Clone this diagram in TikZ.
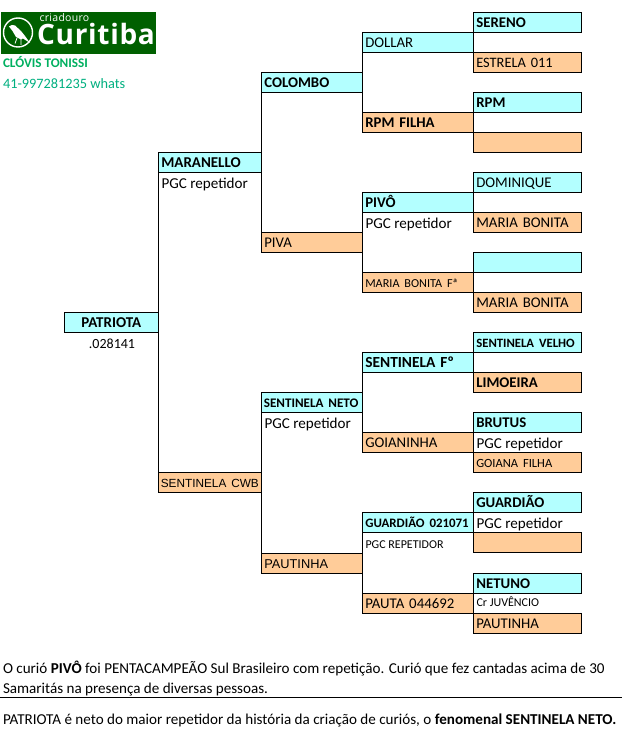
\documentclass[tikz,border=0pt]{standalone}
\usepackage{fontspec}
\setmainfont{Carlito}
\newfontfamily\capsf[WordSpace=0.6]{Carlito}
\newfontfamily\arialf[WordSpace=0.6]{Liberation Sans}
\newfontfamily\logof[LetterSpace=2.5]{Open Sans}
\definecolor{cyanbox}{HTML}{B3FFFF}
\definecolor{orangebox}{HTML}{FFCC99}
\definecolor{logogreen}{HTML}{006000}
\definecolor{nametext}{HTML}{00B060}
\definecolor{phonetext}{HTML}{00B080}
\newcommand{\fsA}{\fontsize{14.8}{17}\selectfont}
\newcommand{\fsN}{\fontsize{15.1}{17}\selectfont}
\newcommand{\fsC}{\fontsize{12}{14}\selectfont}
\newcommand{\fsS}[1]{\fontsize{#1}{14}\selectfont}
\tikzset{
  x=1pt,y=-1pt,
  famtree/.style={rectangle,draw=black,line width=1pt,anchor=north west,outer sep=0pt,inner xsep=3pt,inner ysep=0pt,
    minimum height=20pt,text height=14pt,text depth=3pt,align=left,font=\capsf\fsA},
  blue/.style={famtree,fill=cyanbox},
  orange/.style={famtree,fill=orangebox},
  c0/.style={minimum width=94pt,text width=88pt},
  c1/.style={minimum width=103pt,text width=97pt},
  c2/.style={minimum width=101pt,text width=95pt},
  c3/.style={minimum width=111pt,text width=105pt},
  c4/.style={minimum width=108.3pt,text width=102.3pt},
  note/.style={anchor=base west,inner sep=0pt,outer sep=0pt,font=\fsN},
  link/.style={draw=black,line width=1pt},
}
\begin{document}
\begin{tikzpicture}
\useasboundingbox (0,0) rectangle (622,738);
\fill[white] (0,0) rectangle (622,738);
% logo
\fill[logogreen] (1,12) rectangle (156,54);
\draw[white,line width=1.4pt] (18,32.5) circle (14.5);
\fill[white] (9,26.5) -- (12,25) -- (15,25.5) -- (21,31) -- (25,36) -- (30,43) -- (23,38.5) -- (21,39.5) -- (16,37) -- (12.5,31) -- cycle;
\draw[white,line width=.8pt] (17,38) -- (15,43.5) (21,39) -- (21,45);
\node[anchor=base west,inner sep=0pt,text=white,font=\logof\fontsize{10.5}{12}\selectfont] (logoa) at (39.5,22) {criadouro};
\node[anchor=base west,inner sep=0pt,text=white,font=\logof\bfseries\fontsize{28}{32}\selectfont] (logob) at (37,45) {Curitiba};
\node[note,text=nametext] (owner) at (3,68) {\fontsize{13.2}{16}\selectfont\bfseries CLÓVIS TONISSI};
\node[note,text=phonetext,font=\fontsize{14.3}{17}\selectfont] (phone) at (3,88.5) {41-997281235 whats};
% column 0
\node[blue,c0,align=center] (patriota) at (64.3,312.3) {\fsS{15}\bfseries PATRIOTA};
\node[note,anchor=base,font=\fontsize{14}{17}\selectfont] (patriotaid) at (112,348) {.028141};
% column 1
\node[blue,c1] (maranello) at (158.3,152.3) {\fsS{15}\bfseries MARANELLO};
\node[note] (maranellon) at (161.5,188) {PGC repetidor};
\node[orange,c1,inner xsep=2.5pt,text width=98pt] (cwb) at (158.3,472.3) {\mbox{\fsS{11.8}\arialf SENTINELA CWB}};
% column 2
\node[blue,c2] (colombo) at (261.3,72.3) {\bfseries COLOMBO};
\node[orange,c2] (piva) at (261.3,232.3) {PIVA};
\node[blue,c2,inner xsep=2.5pt,text width=96pt] (neto) at (261.3,392.3) {\mbox{\fsS{13.1}\bfseries SENTINELA NETO}};
\node[note] (neton) at (264.5,428) {PGC repetidor};
\node[orange,c2] (pautinhaa) at (261.3,553.3) {\fsS{12.8}\arialf PAUTINHA};
% column 3
\node[blue,c3] (dollar) at (362.3,32.3) {DOLLAR};
\node[orange,c3] (rpmf) at (362.3,112.3) {\bfseries RPM FILHA};
\node[blue,c3] (pivo) at (362.3,192.3) {\bfseries PIVÔ};
\node[note] (pivon) at (365.5,228) {PGC repetidor};
\node[orange,c3] (mbf) at (362.3,272.3) {\fsS{12.2}MARIA BONITA Fª};
\node[blue,c3] (sentf) at (362.3,352.3) {\fsS{15.4}\bfseries SENTINELA Fº};
\node[orange,c3] (goianinha) at (362.3,432.3) {GOIANINHA};
\node[blue,c3] (guard) at (362.3,512.3) {\mbox{\fsS{12.9}\bfseries GUARDIÃO 021071}};
\node[note,font=\fsC] (guardn) at (365.5,548) {PGC REPETIDOR};
\node[orange,c3] (pauta) at (362.3,593.3) {PAUTA 044692};
% column 4
\node[blue,c4] (sereno) at (473.3,12.3) {\bfseries SERENO};
\node[orange,c4] (estrela) at (473.3,52.3) {\fsS{14.4}ESTRELA 011};
\node[blue,c4] (rpm) at (473.3,92.3) {\bfseries RPM};
\node[orange,c4] (rpmm) at (473.3,132.3) {};
\node[blue,c4] (dominique) at (473.3,172.3) {DOMINIQUE};
\node[orange,c4] (mba) at (473.3,212.3) {MARIA BONITA};
\node[blue,c4] (emptyb) at (473.3,252.3) {};
\node[orange,c4] (mbb) at (473.3,292.3) {MARIA BONITA};
\node[blue,c4] (velho) at (473.3,332.3) {\mbox{\fsS{12.7}\bfseries SENTINELA VELHO}};
\node[orange,c4] (limoeira) at (473.3,372.3) {\bfseries LIMOEIRA};
\node[blue,c4] (brutus) at (473.3,412.3) {\bfseries BRUTUS};
\node[note] (brutusn) at (476.5,448) {PGC repetidor};
\node[orange,c4] (goiana) at (473.3,452.3) {\fsS{12.5}GOIANA FILHA};
\node[blue,c4] (guardiao) at (473.3,492.3) {\bfseries GUARDIÃO};
\node[note] (guardiaon) at (476.5,528) {PGC repetidor};
\node[orange,c4] (emptyo) at (473.3,532.3) {};
\node[blue,c4] (netuno) at (473.3,573.3) {\bfseries NETUNO};
\node[note,font=\fsC] (netunon) at (476.5,606) {Cr JUVÊNCIO};
\node[orange,c4] (pautinhab) at (473.3,613.3) {PAUTINHA};
% connectors
\draw[link] (maranello.south west) -- (cwb.north west);
\draw[link] (colombo.south west) -- (piva.north west);
\draw[link] (neto.south west) -- (pautinhaa.north west);
\draw[link] (dollar.south west) -- (rpmf.north west);
\draw[link] (pivo.south west) -- (mbf.north west);
\draw[link] (sentf.south west) -- (goianinha.north west);
\draw[link] (guard.south west) -- (pauta.north west);
\draw[link] (sereno.south west) -- (estrela.north west);
\draw[link] (rpm.south west) -- (rpmm.north west);
\draw[link] (dominique.south west) -- (mba.north west);
\draw[link] (emptyb.south west) -- (mbb.north west);
\draw[link] (velho.south west) -- (limoeira.north west);
\draw[link] (brutus.south west) -- (goiana.north west);
\draw[link] (guardiao.south west) -- (emptyo.north west);
\draw[link] (netuno.south west) -- (pautinhab.north west);
% footer
\node[note] (fa) at (3,673) {O curió {\bfseries PIVÔ} foi PENTACAMPEÃO Sul Brasileiro com repetição. Curió que fez cantadas acima de 30};
\node[note] (fb) at (3,693) {Samaritás na presença de diversas pessoas.};
\coordinate (rulea) at (0,697.5);
\coordinate (ruleb) at (622,697.5);
\draw[link] (rulea) -- (ruleb);
\node[note] (fc) at (3,724) {PATRIOTA é neto do maior repetidor da história da criação de curiós, o {\bfseries fenomenal SENTINELA NETO.}};
\end{tikzpicture}
\end{document}
